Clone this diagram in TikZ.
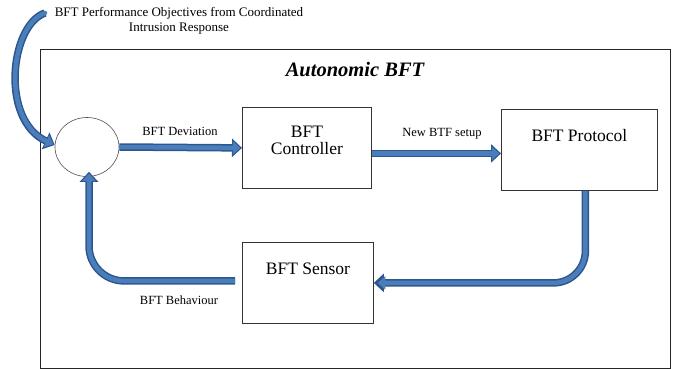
\documentclass[tikz,border=0pt]{standalone}
\usepackage{fontspec}
\setmainfont{Liberation Serif}
\usetikzlibrary{arrows.meta,shapes.geometric}
\definecolor{arrfill}{RGB}{74,126,187}
\definecolor{arredge}{RGB}{44,86,140}
\begin{document}
\begin{tikzpicture}[x=1pt,y=-1pt,
  box/.style={draw=black!80, line width=0.8pt, rectangle, inner sep=0pt, anchor=north west},
  boxtext/.style={font=\fontsize{17.5}{17}\selectfont, align=center, inner sep=0pt},
  lbl/.style={font=\fontsize{12.5}{15}\selectfont, inner sep=0pt, align=center},
  bigarrow/.style={preaction={draw=arredge, line width=7.5pt, shorten >=0pt, -{Triangle[length=10pt,width=18pt]}},
    draw=arrfill, line width=4.5pt, -{Triangle[length=7.5pt,width=13pt]}, shorten >=1.7pt}]
\useasboundingbox (0,0) rectangle (674,369);
% outer frame
\draw[black!85, line width=0.8pt] (40,49) rectangle (670,368);
\node[font=\fontsize{20.5}{24}\selectfont\bfseries\itshape] (title) at (355,70) {Autonomic BFT};
% comparator
\node[draw=black!70, line width=0.6pt, ellipse, minimum width=64pt, minimum height=59pt, inner sep=0pt] (circ) at (87,147) {};
% boxes
\node[box, minimum width=129pt, minimum height=81pt] (ctrl) at (242,107) {};
\node[boxtext, anchor=north] (ctrlt) at ([yshift=-19pt]ctrl.north) {BFT\\Controller};
\node[box, minimum width=156pt, minimum height=81pt] (prot) at (501,109) {};
\node[boxtext, anchor=north] (prott) at ([yshift=-20pt]prot.north) {BFT Protocol};
\node[box, minimum width=131pt, minimum height=81pt] (sens) at (242,242) {};
\node[boxtext, anchor=north] (senst) at ([yshift=-21pt]sens.north) {BFT Sensor};
% labels
\node[lbl, font=\fontsize{13}{15.5}\selectfont] (perf) at (179,21) {BFT Performance Objectives from Coordinated\\Intrusion Response};
\node[lbl] (devl) at (180,131) {BFT Deviation};
\node[lbl] (setl) at (442,134) {New BTF setup};
\node[lbl] (behl) at (179,300) {BFT Behaviour};
% arrows
\coordinate (perfsrc) at (45,13);
\draw[bigarrow, line cap=round] (perfsrc) .. controls (10,25) and (0,120) .. ([yshift=2pt]circ.west);
\draw[bigarrow] (circ.east) -- (ctrl.west);
\draw[bigarrow] ([yshift=-5.5pt]ctrl.east) -- ([yshift=-5.5pt]ctrl.east -| prot.west);
\draw[bigarrow, rounded corners=32pt, shorten >=4pt] ([xshift=6pt]prot.south) |- (sens.east);
\draw[bigarrow, rounded corners=35pt] ([xshift=-7pt, yshift=2pt]sens.west) -| ([xshift=2pt, yshift=5pt]circ.south);
\end{tikzpicture}
\end{document}
